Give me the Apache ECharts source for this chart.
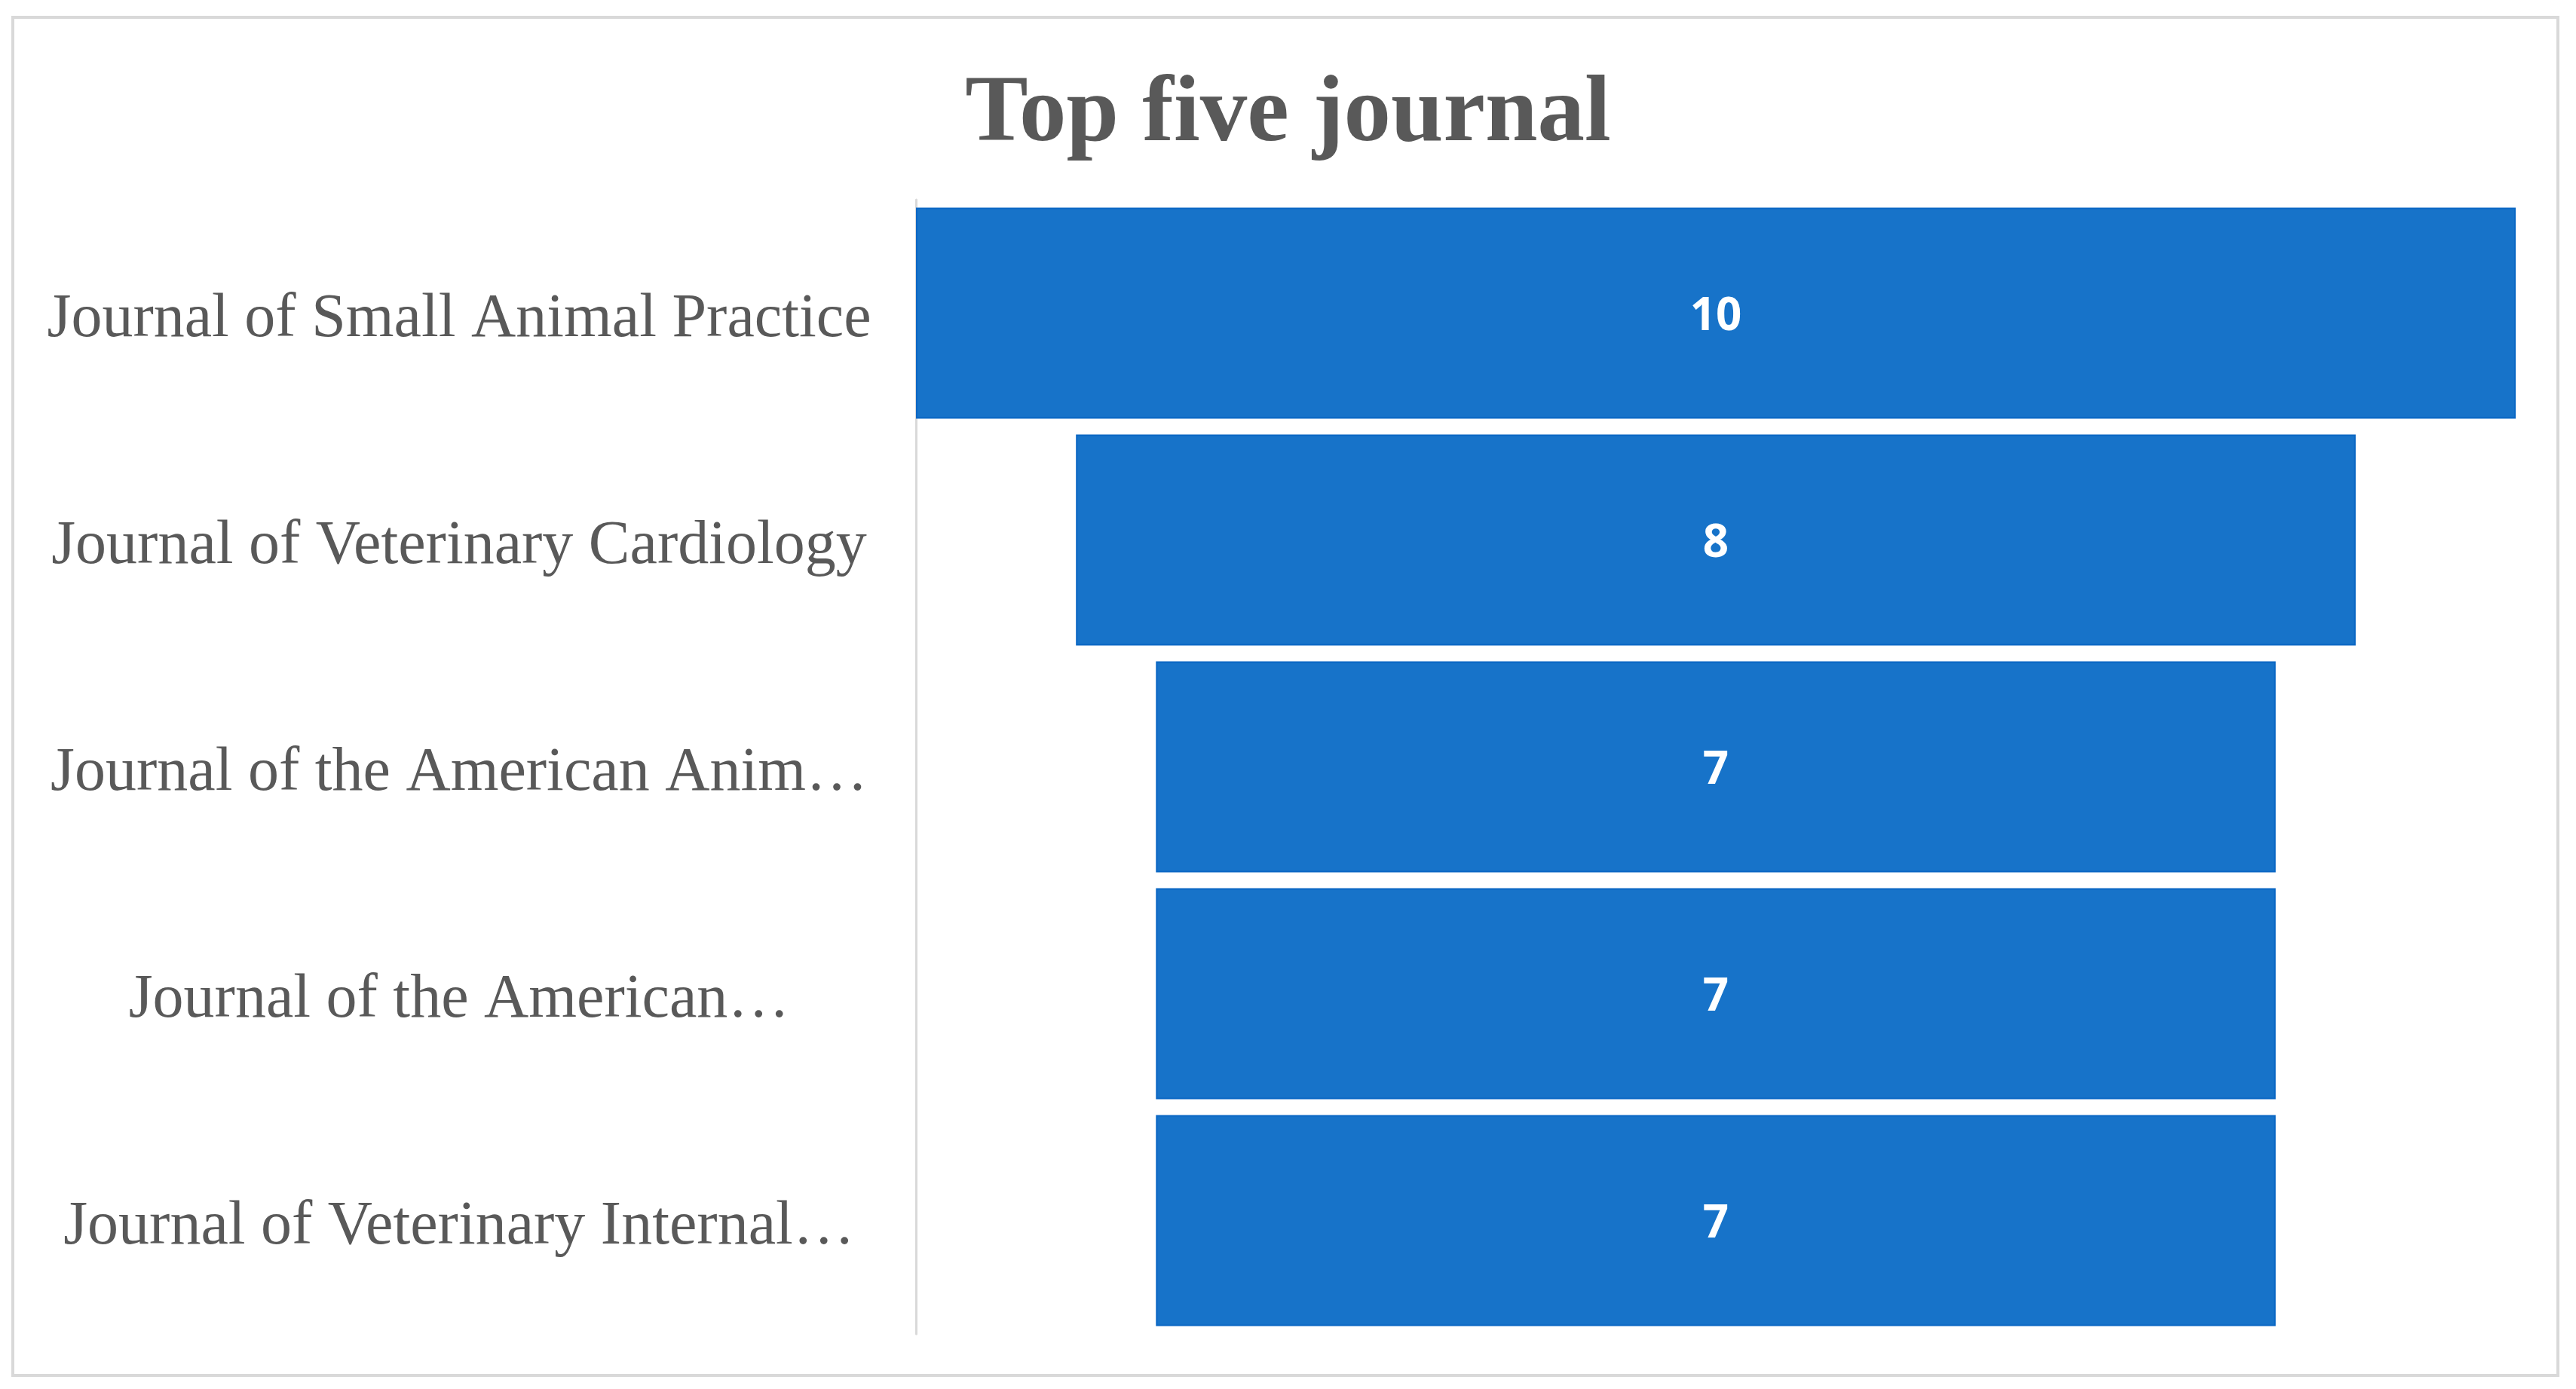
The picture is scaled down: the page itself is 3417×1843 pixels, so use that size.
<!DOCTYPE html>
<html>
<head>
<meta charset="utf-8">
<script src="https://cdn.jsdelivr.net/npm/echarts@6/dist/echarts.min.js"></script>
<style>
html,body{margin:0;padding:0;background:#fff;}
#chart{width:3417px;height:1843px;}
</style>
</head>
<body>
<div id="chart"></div>
<script>
const chartTitle = "Top five journal";
const categories = [
  "Journal of Small Animal Practice",
  "Journal of Veterinary Cardiology",
  "Journal of the American Anim\u2026",
  "Journal of the American\u2026",
  "Journal of Veterinary Internal\u2026"
];
const values = [10, 8, 7, 7, 7];
const maxValue = Math.max(...values);
const offsets = values.map(v => (maxValue - v) / 2);

const chart = echarts.init(document.getElementById('chart'), null, {renderer: 'canvas'});
chart.setOption({
  animation: false,
  backgroundColor: '#ffffff',
  title: {
    text: chartTitle,
    left: 'center',
    top: 86,
    textStyle: {
      fontFamily: 'Liberation Serif',
      fontWeight: 'bold',
      fontSize: 125,
      color: '#595959'
    }
  },
  graphic: [{
    type: 'rect',
    shape: {x: 17, y: 23, width: 3376, height: 1802},
    style: {fill: 'none', stroke: '#d9d9d9', lineWidth: 4},
    silent: true,
    z: -10
  }],
  grid: {left: 1215, right: 80, top: 265, bottom: 73},
  xAxis: {
    type: 'value',
    min: 0,
    max: maxValue,
    show: false
  },
  yAxis: {
    type: 'category',
    data: categories,
    inverse: true,
    axisLine: {show: true, lineStyle: {color: '#d9d9d9', width: 3}},
    axisTick: {show: false},
    axisLabel: {
      align: 'center',
      margin: 606,
      formatter: v => '{t|' + v + '}',
      rich: {
        t: {
          fontFamily: 'Liberation Serif',
          fontSize: 82,
          color: '#595959',
          padding: [18, 0, 0, 0]
        }
      }
    }
  },
  series: [
    {
      type: 'bar',
      stack: 'f',
      data: offsets,
      itemStyle: {color: 'rgba(0,0,0,0)'},
      barCategoryGap: '7%',
      silent: true
    },
    {
      type: 'bar',
      stack: 'f',
      data: values,
      barCategoryGap: '7%',
      itemStyle: {color: '#1773c9', borderColor: '#0a67c4', borderWidth: 2},
      label: {
        show: true,
        position: 'inside',
        offset: [0, 5],
        color: '#ffffff',
        fontFamily: 'Open Sans',
        fontWeight: 'bold',
        fontSize: 60
      }
    }
  ]
});
</script>
</body>
</html>
